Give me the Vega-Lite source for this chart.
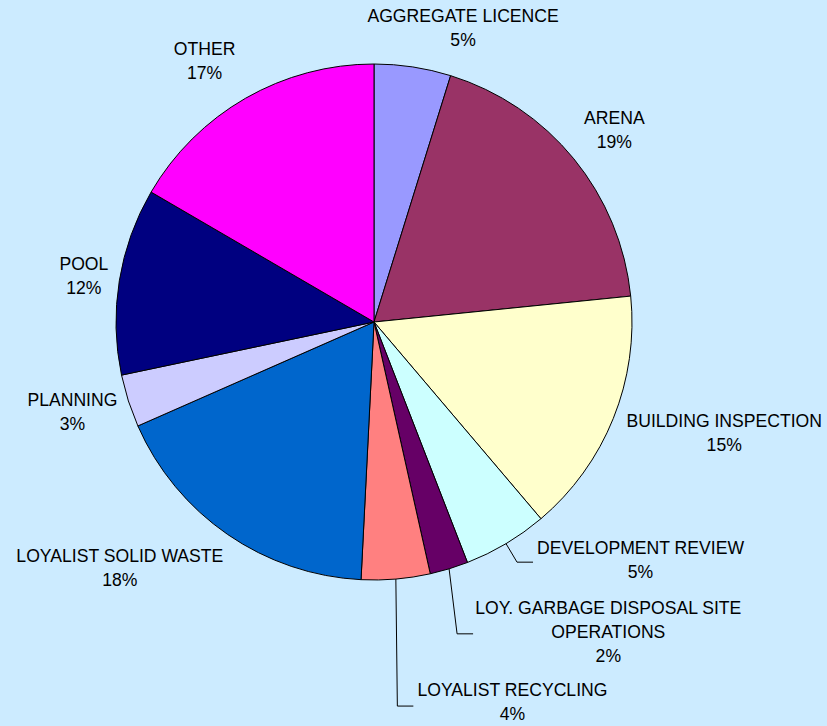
{
  "$schema": "https://vega.github.io/schema/vega-lite/v6.json",
  "width": 748,
  "height": 644,
  "autosize": {"type": "none"},
  "padding": {"left": 0, "top": 0, "right": 79, "bottom": 82},
  "background": "#CCEBFF",
  "config": {"view": {"stroke": null}},
  "data": {
    "values": [
      {"category": "AGGREGATE LICENCE", "value": 4.8, "order": 1},
      {"category": "ARENA", "value": 18.6, "order": 2},
      {"category": "BUILDING INSPECTION", "value": 15.4, "order": 3},
      {"category": "DEVELOPMENT REVIEW", "value": 5.3, "order": 4},
      {"category": "LOY. GARBAGE DISPOSAL SITE OPERATIONS", "value": 2.4, "order": 5},
      {"category": "LOYALIST RECYCLING", "value": 4.3, "order": 6},
      {"category": "LOYALIST SOLID WASTE", "value": 17.6, "order": 7},
      {"category": "PLANNING", "value": 3.3, "order": 8},
      {"category": "POOL", "value": 11.7, "order": 9},
      {"category": "OTHER", "value": 16.6, "order": 10}
    ]
  },
  "transform": [
    {"stack": "value", "groupby": [], "sort": [{"field": "order", "order": "ascending"}], "offset": "normalize", "as": ["s0", "s1"]},
    {"calculate": "(datum.s0 + datum.s1) / 2", "as": "mid"},
    {"calculate": "round((datum.s1 - datum.s0) * 100) + '%'", "as": "pct"},
    {"calculate": "(datum.category == 'LOY. GARBAGE DISPOSAL SITE OPERATIONS' ? 'LOY. GARBAGE DISPOSAL SITE\\nOPERATIONS' : datum.category) + '\\n' + datum.pct", "as": "lbl"}
  ],
  "layer": [
    {
      "mark": {"type": "arc", "outerRadius": 258, "stroke": "#000000", "strokeWidth": 1},
      "encoding": {
        "theta": {"field": "s0", "type": "quantitative", "scale": {"domain": [0, 1], "range": [0, 6.283185307]}},
        "theta2": {"field": "s1"},
        "color": {
          "field": "category",
          "type": "nominal",
          "legend": null,
          "scale": {
            "domain": ["AGGREGATE LICENCE", "ARENA", "BUILDING INSPECTION", "DEVELOPMENT REVIEW", "LOY. GARBAGE DISPOSAL SITE OPERATIONS", "LOYALIST RECYCLING", "LOYALIST SOLID WASTE", "PLANNING", "POOL", "OTHER"],
            "range": ["#9999FF", "#993366", "#FFFFCC", "#CCFFFF", "#660066", "#FF8080", "#0066CC", "#CCCCFF", "#000080", "#FF00FF"]
          }
        }
      }
    },
    {
      "mark": {
        "type": "text",
        "radius": 300,
        "font": "Liberation Sans",
        "fontSize": 17.6,
        "lineHeight": 24,
        "lineBreak": "\n",
        "align": "center",
        "baseline": "middle",
        "color": "#000000",
        "dx": {"expr": "[44, 8, 72, 113, 147, 113, -84, -16, 6, -20][datum.order - 1]"},
        "dy": {"expr": "[-8, -13, -12, -31, 0, 70, -12, -13, -9, -12][datum.order - 1]"}
      },
      "encoding": {
        "theta": {"field": "mid", "type": "quantitative", "stack": null, "scale": {"domain": [0, 1], "range": [0, 6.283185307]}},
        "text": {"field": "lbl", "type": "nominal"}
      }
    },
    {
      "transform": [
        {"filter": "datum.order >= 4 && datum.order <= 6"},
        {"calculate": "258 * sin(datum.mid * 2 * PI)", "as": "ex"},
        {"calculate": "258 * cos(datum.mid * 2 * PI)", "as": "ey"},
        {"calculate": "datum.ex + [11, 8, 1.5][datum.order - 4]", "as": "kx"},
        {"calculate": "datum.ey - [18.5, 65, 127][datum.order - 4]", "as": "ky"}
      ],
      "mark": {"type": "rule", "color": "#000000", "strokeWidth": 1},
      "encoding": {
        "x": {"field": "ex", "type": "quantitative", "axis": null, "scale": {"domain": [-374, 374], "nice": false, "zero": false}},
        "y": {"field": "ey", "type": "quantitative", "axis": null, "scale": {"domain": [-322, 322], "nice": false, "zero": false}},
        "x2": {"field": "kx"},
        "y2": {"field": "ky"}
      }
    },
    {
      "transform": [
        {"filter": "datum.order >= 4 && datum.order <= 6"},
        {"calculate": "258 * sin(datum.mid * 2 * PI)", "as": "ex"},
        {"calculate": "258 * cos(datum.mid * 2 * PI)", "as": "ey"},
        {"calculate": "datum.ex + [11, 8, 1.5][datum.order - 4]", "as": "kx"},
        {"calculate": "datum.ey - [18.5, 65, 127][datum.order - 4]", "as": "ky"},
        {"calculate": "datum.kx + 16", "as": "tx"}
      ],
      "mark": {"type": "rule", "color": "#000000", "strokeWidth": 1},
      "encoding": {
        "x": {"field": "kx", "type": "quantitative", "axis": null, "scale": {"domain": [-374, 374], "nice": false, "zero": false}},
        "y": {"field": "ky", "type": "quantitative", "axis": null, "scale": {"domain": [-322, 322], "nice": false, "zero": false}},
        "x2": {"field": "tx"}
      }
    }
  ]
}
